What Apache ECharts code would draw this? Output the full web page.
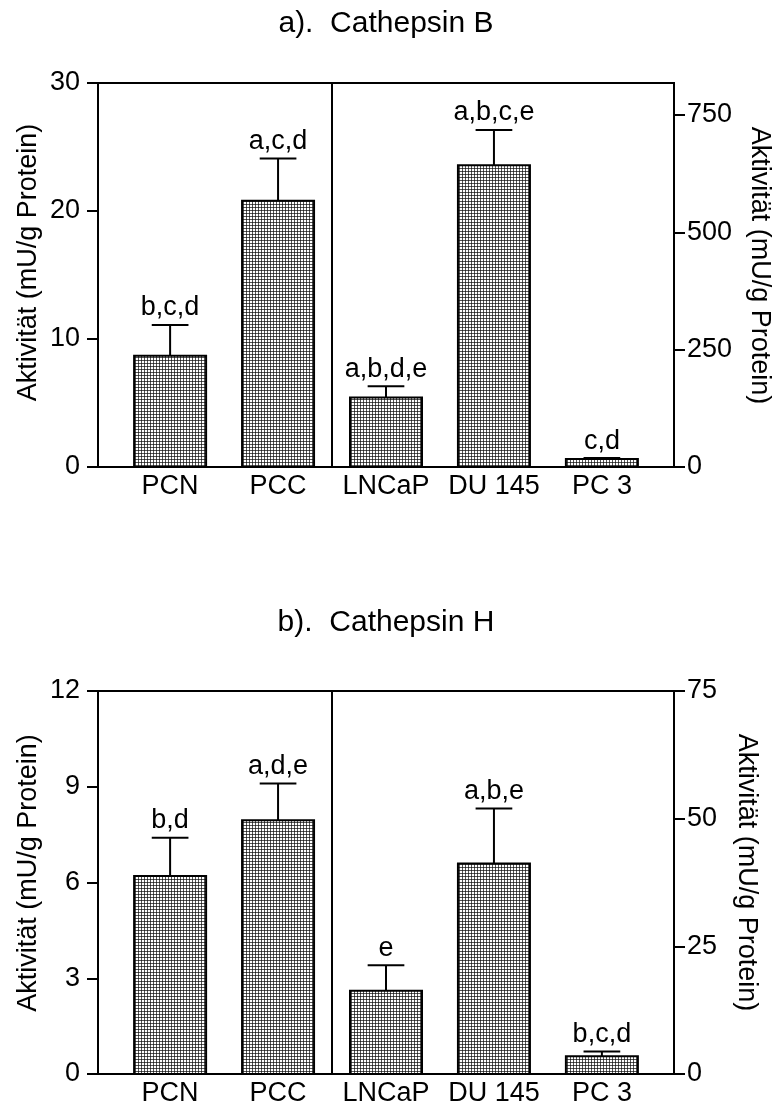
<!DOCTYPE html>
<html>
<head>
<meta charset="utf-8">
<script src="https://cdn.jsdelivr.net/npm/echarts@6/dist/echarts.min.js"></script>
<style>
  html, body { margin: 0; padding: 0; background: #fff; }
  #chart { width: 778px; height: 1107px; }
</style>
</head>
<body>
<div id="chart"></div>
<script>
// Cell types on the x axis
const categories = ['PCN', 'PCC', 'LNCaP', 'DU 145', 'PC 3'];
// 0 = tissue samples on the left axis, 1 = cell lines on the right axis
const axisSide = [0, 0, 1, 1, 1];

// a) Cathepsin B: means and SEM (left: mU/g, right: mU/g)
const cathBMean = [8.7, 20.8, 148, 643, 17];
const cathBSem = [2.4, 3.3, 24, 75, 2];
const cathBLabels = ['b,c,d', 'a,c,d', 'a,b,d,e', 'a,b,c,e', 'c,d'];

// b) Cathepsin H: means and SEM
const cathHMean = [6.2, 7.95, 16.3, 41.2, 3.5];
const cathHSem = [1.2, 1.15, 5.0, 10.8, 0.9];
const cathHLabels = ['b,d', 'a,d,e', 'e', 'a,b,e', 'b,c,d'];

// Axis ticks
const cathBLeftTicks = [0, 10, 20, 30];
const cathBRightTicks = [0, 250, 500, 750];
const cathHLeftTicks = [0, 3, 6, 9, 12];
const cathHRightTicks = [0, 25, 50, 75];

// ---------------------------------------------------------------
function hasFont(name) {
  const ctx = document.createElement('canvas').getContext('2d');
  const probe = 'PCNabc0123456789';
  ctx.font = '40px monospace';
  const w1 = ctx.measureText(probe).width;
  ctx.font = '40px "' + name + '", monospace';
  return Math.abs(ctx.measureText(probe).width - w1) > 0.5;
}
const NARROW = hasFont('Liberation Sans Narrow');
const TICK_FONT = NARROW ? '"Liberation Sans Narrow", "Liberation Sans", Arial' : '"Liberation Sans", Arial';
const TICK_SIZE = NARROW ? 30 : 27;
const XLAB_MARGIN = NARROW ? 3 : 6;
const SANS = '"Liberation Sans", Arial, Helvetica, sans-serif';

// fine grid screen used as bar fill
function makePattern() {
  const c = document.createElement('canvas');
  c.width = 3; c.height = 3;
  const g = c.getContext('2d');
  g.fillStyle = '#ffffff'; g.fillRect(0, 0, 3, 3);
  g.fillStyle = '#555555'; g.fillRect(0, 0, 3, 1); g.fillRect(0, 0, 1, 3);
  g.fillStyle = '#222222'; g.fillRect(0, 0, 1, 1);
  return c;
}
const pattern = { image: makePattern(), repeat: 'repeat' };

const BAR_W = 0.667;   // in category units
const CAP_W = 0.34;

function renderer(labels) {
  return function (params, api) {
    const x = api.value(0), m = api.value(1), s = api.value(2);
    const base = api.coord([x, 0]);
    const top = api.coord([x, m]);
    const et = api.coord([x, m + s]);
    const w = api.size([BAR_W, 0])[0];
    const cw = api.size([CAP_W, 0])[0];
    const cx = base[0];
    return {
      type: 'group',
      children: [
        { type: 'rect', shape: { x: cx - w / 2, y: top[1], width: w, height: base[1] - top[1] },
          style: { fill: pattern, stroke: '#000', lineWidth: 2 } },
        { type: 'line', shape: { x1: cx, y1: top[1], x2: cx, y2: et[1] },
          style: { stroke: '#000', lineWidth: 2 } },
        { type: 'line', shape: { x1: cx - cw / 2, y1: et[1], x2: cx + cw / 2, y2: et[1] },
          style: { stroke: '#000', lineWidth: 2 } },
        { type: 'text', x: cx, y: et[1] - 17,
          style: { text: labels[Math.round(x)], fill: '#000', font: '27px ' + SANS,
                   align: 'center', verticalAlign: 'middle' } }
      ]
    };
  };
}

function seriesData(means, sems, side) {
  const out = [];
  for (let i = 0; i < categories.length; i++) {
    if (axisSide[i] === side) out.push([i, means[i], sems[i]]);
  }
  return out;
}

const lineStyle = { color: '#000', width: 2 };
const tickLabel = { color: '#000', fontFamily: TICK_FONT, fontSize: TICK_SIZE };

function xAxis(gi) {
  return {
    type: 'value', gridIndex: gi, min: -0.668, max: 4.668,
    axisLine: { show: true, lineStyle: lineStyle },
    axisTick: { show: false },
    splitLine: { show: false },
    axisLabel: Object.assign({
      customValues: [0, 1, 2, 3, 4],
      margin: XLAB_MARGIN,
      formatter: v => categories[Math.round(v)]
    }, tickLabel)
  };
}

function yAxis(gi, pos, max, ticks, margin) {
  return {
    type: 'value', gridIndex: gi, position: pos, min: 0, max: max,
    axisLine: { show: true, onZero: false, lineStyle: lineStyle },
    axisTick: { show: true, inside: false, length: 11, lineStyle: lineStyle, customValues: ticks },
    splitLine: { show: false },
    axisLabel: Object.assign({ customValues: ticks, margin: margin }, tickLabel)
  };
}

const divider = {
  silent: true, symbol: 'none', animation: false,
  label: { show: false },
  lineStyle: { color: '#000', width: 2, type: 'solid' },
  data: [{ xAxis: 1.5 }]
};

function axisTitle(x, y, rot) {
  return {
    type: 'text', x: x, y: y, rotation: rot,
    style: { text: 'Aktivität (mU/g Protein)', fill: '#000', font: '27px ' + SANS,
             align: 'center', verticalAlign: 'middle' }
  };
}

const chart = echarts.init(document.getElementById('chart'), null, { renderer: 'canvas' });
chart.setOption({
  animation: false,
  backgroundColor: '#fff',
  grid: [
    { left: 98, right: 104, top: 83, height: 384, show: true, borderColor: '#000', borderWidth: 2, backgroundColor: 'transparent' },
    { left: 98, right: 104, top: 691, height: 384, show: true, borderColor: '#000', borderWidth: 2, backgroundColor: 'transparent' }
  ],
  xAxis: [xAxis(0), xAxis(1)],
  yAxis: [
    yAxis(0, 'left', 30, cathBLeftTicks, 18),
    yAxis(0, 'right', 818, cathBRightTicks, 13),
    yAxis(1, 'left', 12, cathHLeftTicks, 18),
    yAxis(1, 'right', 75, cathHRightTicks, 13)
  ],
  series: [
    { type: 'custom', xAxisIndex: 0, yAxisIndex: 0, renderItem: renderer(cathBLabels),
      data: seriesData(cathBMean, cathBSem, 0), encode: { x: 0, y: 1 }, markLine: divider },
    { type: 'custom', xAxisIndex: 0, yAxisIndex: 1, renderItem: renderer(cathBLabels),
      data: seriesData(cathBMean, cathBSem, 1), encode: { x: 0, y: 1 } },
    { type: 'custom', xAxisIndex: 1, yAxisIndex: 2, renderItem: renderer(cathHLabels),
      data: seriesData(cathHMean, cathHSem, 0), encode: { x: 0, y: 1 }, markLine: divider },
    { type: 'custom', xAxisIndex: 1, yAxisIndex: 3, renderItem: renderer(cathHLabels),
      data: seriesData(cathHMean, cathHSem, 1), encode: { x: 0, y: 1 } }
  ],
  graphic: [
    { type: 'text', x: 386, y: 23.5,
      style: { text: 'a).  Cathepsin B', fill: '#000', font: '30px ' + SANS, align: 'center', verticalAlign: 'middle' } },
    { type: 'text', x: 386, y: 623,
      style: { text: 'b).  Cathepsin H', fill: '#000', font: '30px ' + SANS, align: 'center', verticalAlign: 'middle' } },
    axisTitle(29, 262.5, Math.PI / 2),
    axisTitle(759, 265.5, -Math.PI / 2),
    axisTitle(29, 873, Math.PI / 2),
    axisTitle(746, 872.5, -Math.PI / 2)
  ]
});
</script>
</body>
</html>
